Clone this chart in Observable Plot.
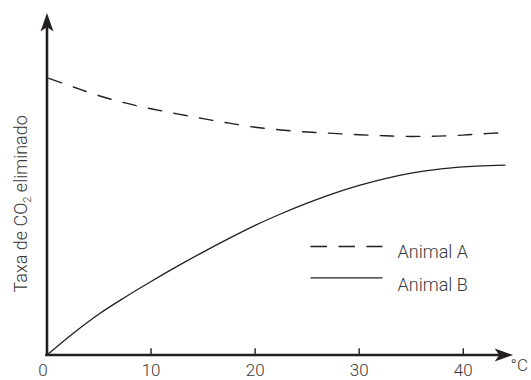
<!DOCTYPE html>
<html>
<head>
<meta charset="utf-8">
<script src="https://cdn.jsdelivr.net/npm/d3@7"></script>
<script src="https://cdn.jsdelivr.net/npm/@observablehq/plot@0.6"></script>
<style>
  html, body { margin: 0; padding: 0; background: #fff; }
</style>
</head>
<body>
<script>
// ---- data ----
const temps = [0, 2.5, 5, 7.5, 10, 12.5, 15, 17.5, 20, 22.5, 25, 27.5, 30, 32.5, 35, 37.5, 40, 42.5, 44];
const rateA = [81.1, 78.4, 75.8, 73.7, 72.0, 70.5, 69.1, 67.8, 66.6, 65.8, 65.2, 64.8, 64.4, 64.1, 63.9, 64.0, 64.3, 64.8, 65.0];
const rateB = [0, 6.3, 12.0, 16.9, 21.5, 25.9, 30.1, 34.1, 37.9, 41.3, 44.4, 47.2, 49.6, 51.6, 53.2, 54.3, 55.0, 55.4, 55.5];
const xTicks = [10, 20, 30, 40];
const xLabelValues = [0, 10, 20, 30, 40];
const seriesNames = ["Animal A", "Animal B"];
const yLabelParts = ["Taxa de CO", "2", " eliminado"];
const xUnit = "°C";
const xDomain = [0, 44.8];
const yDomain = [0, 100];

// ---- tables ----
const dataA = temps.map((t, i) => ({t, v: rateA[i]}));
const dataB = temps.map((t, i) => ({t, v: rateB[i]}));
const yLabelText = yLabelParts.join("");

const ink = "#231f20";
const arrowHead = {draw(ctx) { ctx.moveTo(0, 0); ctx.lineTo(-6.5, 18.5); ctx.lineTo(0, 14); ctx.lineTo(6.5, 18.5); ctx.closePath(); }};
const tickMark = {draw(ctx) { ctx.moveTo(0, 0); ctx.lineTo(0, -6.7); }};
const swatch = {draw(ctx) { ctx.moveTo(-36, 0); ctx.lineTo(36, 0); }};

const chart = Plot.plot({
  width: 531,
  height: 380,
  marginLeft: 46.5,
  marginRight: 18.3,
  marginTop: 12.5,
  marginBottom: 25.5,
  x: {domain: xDomain, axis: null},
  y: {domain: yDomain, axis: null},
  style: {fontFamily: "Roboto, 'Liberation Sans', sans-serif", fontSize: "18px", fontWeight: 300, color: "#3a3a3a", background: "#fff"},
  marks: [
    // curves
    Plot.line(dataA, {x: "t", y: "v", curve: "monotone-x", stroke: ink, strokeWidth: 1.4, strokeDasharray: "13.5,12.5", strokeDashoffset: -2}),
    Plot.line(dataB, {x: "t", y: "v", curve: "monotone-x", stroke: ink, strokeWidth: 1.3}),
    // axes
    Plot.ruleX([xDomain[0]], {x: d => d, y1: yDomain[1], y2: yDomain[0], insetTop: 8, insetBottom: -1.25, stroke: ink, strokeWidth: 2.6}),
    Plot.ruleY([yDomain[0]], {y: d => d, x1: xDomain[0], x2: xDomain[1], insetLeft: -1.25, insetRight: 8, stroke: ink, strokeWidth: 2.6}),
    Plot.dot([yDomain[1]], {x: xDomain[0], y: d => d, symbol: arrowHead, fill: ink, stroke: "none"}),
    Plot.dot([xDomain[1]], {x: d => d, y: yDomain[0], symbol: arrowHead, rotate: 90, fill: ink, stroke: "none"}),
    Plot.dot(xTicks, {x: d => d, y: yDomain[0], symbol: tickMark, stroke: ink, strokeWidth: 1.4, fill: "none"}),
    // tick labels
    Plot.text(xLabelValues.filter(d => d !== 0), {x: d => d, y: yDomain[0], text: d => String(d), dy: 15.6, fontSize: 17}),
    Plot.text(xLabelValues.filter(d => d === 0), {x: d => d, y: yDomain[0], text: d => String(d), dy: 15.6, dx: -4, fontSize: 17}),
    Plot.text([xUnit], {text: d => d, frameAnchor: "bottom-right", dx: -2.7, dy: 15.6, textAnchor: "start", fontSize: 17}),
    // y label
    Plot.text([yLabelText], {text: d => d, frameAnchor: "left", rotate: -90, dx: -25.3, dy: 19.8, textAnchor: "middle"}),
    // legend
    Plot.dot([seriesNames[0]], {frameAnchor: "top-left", dx: 299.5, dy: 233.5, symbol: swatch, stroke: ink, strokeWidth: 1.4, strokeDasharray: "16.5,11.5", fill: "none"}),
    Plot.dot([seriesNames[1]], {frameAnchor: "top-left", dx: 299.5, dy: 264.8, symbol: swatch, stroke: ink, strokeWidth: 1.3, fill: "none"}),
    Plot.text([seriesNames[0]], {text: d => d, frameAnchor: "top-left", dx: 350.5, dy: 231.8, textAnchor: "start"}),
    Plot.text([seriesNames[1]], {text: d => d, frameAnchor: "top-left", dx: 350.5, dy: 265.5, textAnchor: "start"})
  ]
});

// subscript in the y label
d3.select(chart).selectAll("text")
  .filter(function() { return this.textContent === yLabelText; })
  .each(function() {
    const yl = d3.select(this);
    yl.text(null);
    yl.append("tspan").text(yLabelParts[0]);
    yl.append("tspan").attr("dy", 4).attr("font-size", 11).text(yLabelParts[1]);
    yl.append("tspan").attr("dy", -4).text(yLabelParts[2]);
  });

document.body.appendChild(chart);
</script>
</body>
</html>
